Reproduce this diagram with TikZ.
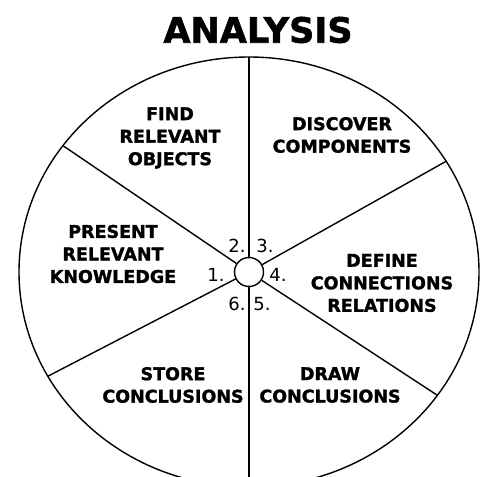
\documentclass[tikz,border=0pt]{standalone}
\usepackage{fontspec}
\setmainfont{DejaVu Sans}[BoldFeatures={FakeBold=1.6}]
\usetikzlibrary{positioning}
\tikzset{phase/.style={align=center, inner sep=0, font=\bfseries\fontsize{17.5}{22.5}\selectfont},
         num/.style={inner sep=0, font=\fontsize{18}{18}\selectfont}}

\begin{document}
\begin{tikzpicture}[x=1pt, y=-1pt, line width=1.4pt]
\useasboundingbox (0,0) rectangle (481,476);
\node[inner sep=0, font=\bfseries\fontsize{35}{35}\selectfont] (title) at (258,30) {ANALYSIS};
\begin{scope}
\clip (0,0) rectangle (481,476);
\node[draw, circle, minimum size=29pt, inner sep=0] (hub) at (249,272) {};
\draw (hub.center) ellipse [x radius=230pt, y radius=215pt];
\coordinate (rim_1) at ([shift={(144:230pt and 215pt)}]hub.center);
\coordinate (rim_2) at ([shift={(90:230pt and 215pt)}]hub.center);
\coordinate (rim_3) at ([shift={(31:230pt and 215pt)}]hub.center);
\coordinate (rim_4) at ([shift={(-35:230pt and 215pt)}]hub.center);
\coordinate (rim_5) at ([shift={(-90:230pt and 215pt)}]hub.center);
\coordinate (rim_6) at ([shift={(209:230pt and 215pt)}]hub.center);
\path[draw] (hub) -- (rim_1);
\path[draw] (hub) -- (rim_2);
\path[draw] (hub) -- (rim_3);
\path[draw] (hub) -- (rim_4);
\path[draw] (hub) -- (rim_5);
\path[draw] (hub) -- (rim_6);
\end{scope}
% segment texts
\node[phase] (find_obj) at (170,138) {FIND\\RELEVANT\\OBJECTS};
\node[phase] (discover) at (342,135) {DISCOVER\\COMPONENTS};
\node[phase] (define) at (382,283) {DEFINE\\CONNECTIONS\\RELATIONS};
\node[phase] (draw_concl) at (330,385) {DRAW\\CONCLUSIONS};
\node[phase] (store) at (173,385) {STORE\\CONCLUSIONS};
\node[phase] (present) at (113,254) {PRESENT\\RELEVANT\\KNOWLEDGE};
% step numbers
\node[num] (n_1) at (216,275) {1.};
\node[num] (n_2) at (237,246) {2.};
\node[num] (n_3) at (265,246) {3.};
\node[num] (n_4) at (278,275) {4.};
\node[num] (n_5) at (262,304) {5.};
\node[num] (n_6) at (237,304) {6.};
\end{tikzpicture}
\end{document}
